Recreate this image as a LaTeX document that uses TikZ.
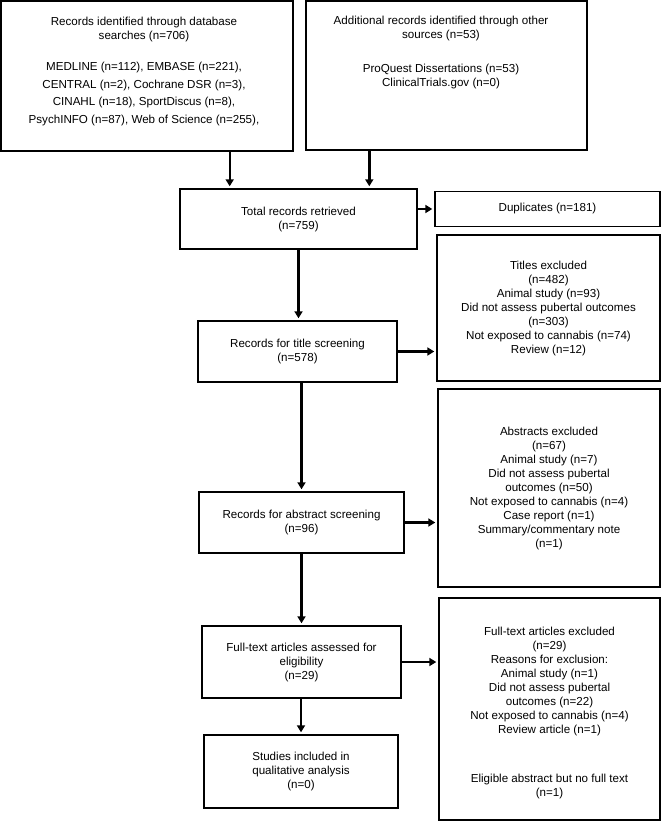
\documentclass[tikz,border=0pt]{standalone}
\usepackage{fontspec}
\setmainfont{Liberation Sans}
\usetikzlibrary{arrows.meta}

\begin{document}
\begin{tikzpicture}[x=1pt, y=-1pt,
  every node/.style={font=\fontsize{11.6}{14}\selectfont, align=center},
  box/.style={draw, line width=1.4pt, inner sep=0pt},
  arr/.style={line width=2.4pt, -{Triangle[length=7pt,width=8pt]}, shorten >=2pt}]
\useasboundingbox (0,0) rectangle (661,821);

\node[box, minimum width=292pt, minimum height=150pt] (dbsearch) at (147,76)
  {\kern-6pt\parbox[c][118pt][t]{260pt}{\centering Records identified through database\\searches (n=706)\\[17pt]MEDLINE (n=112), EMBASE (n=221),\\[3.6pt]CENTRAL (n=2), Cochrane DSR (n=3),\\[3.6pt]CINAHL (n=18), SportDiscus (n=8),\\[3.6pt]PsychINFO (n=87), Web of Science (n=255),}};
\node[box, minimum width=281pt, minimum height=149pt] (othersrc) at (446.5,75.5)
  {\kern-11pt\parbox[c][118pt][t]{250pt}{\centering Additional records identified through other\\sources (n=53)\\[19.6pt]ProQuest Dissertations (n=53)\\ClinicalTrials.gov (n=0)}};

\node[box, minimum width=237pt, minimum height=60pt] (total) at (298.5,219) {Total records retrieved\\(n=759)};
\node[box, minimum width=225pt, minimum height=35pt] (dupl) at (547.5,209) {Duplicates (n=181)};

\node[box, minimum width=199pt, minimum height=61pt] (titlescr) at (297.5,351.5) {Records for title screening\\(n=578)};
\node[box, minimum width=223pt, minimum height=146pt] (titleexcl) at (548.5,308)
  {Titles excluded\\(n=482)\\Animal study (n=93)\\Did not assess pubertal outcomes\\(n=303)\\Not exposed to cannabis (n=74)\\Review (n=12)};

\node[box, minimum width=205pt, minimum height=61pt] (abstrscr) at (301.5,522.5) {Records for abstract screening\\(n=96)};
\node[box, minimum width=222pt, minimum height=198pt] (abstrexcl) at (549,488)
  {Abstracts excluded\\(n=67)\\Animal study (n=7)\\Did not assess pubertal\\outcomes (n=50)\\Not exposed to cannabis (n=4)\\Case report (n=1)\\Summary/commentary note\\(n=1)};

\node[box, minimum width=199pt, minimum height=72pt] (fulltext) at (301.5,662) {Full-text articles assessed for\\eligibility\\(n=29)};
\node[box, minimum width=221pt, minimum height=222pt] (fullexcl) at (549.5,709)
  {\parbox[c][163pt][t]{210pt}{\centering Full-text articles excluded\\(n=29)\\Reasons for exclusion:\\Animal study (n=1)\\Did not assess pubertal\\outcomes (n=22)\\Not exposed to cannabis (n=4)\\Review article (n=1)\\[35pt]Eligible abstract but no full text\\(n=1)}};

\node[box, minimum width=194pt, minimum height=73pt] (included) at (301,771.5) {Studies included in\\qualitative analysis\\(n=0)};

\draw[arr] ([xshift=-64pt]dbsearch.south east) -- ([xshift=-64pt]dbsearch.south east |- total.north);
\draw[arr] ([xshift=64pt]othersrc.south west) -- ([xshift=64pt]othersrc.south west |- total.north);
\draw[arr] (total.east |- dupl.west) -- (dupl.west);
\draw[arr] (total.south) -- (total.south |- titlescr.north);
\draw[arr] (titlescr.east) -- (titlescr.east -| titleexcl.west);
\draw[arr] (abstrscr.north |- titlescr.south) -- (abstrscr.north);
\draw[arr] (abstrscr.east) -- (abstrscr.east -| abstrexcl.west);
\draw[arr] (abstrscr.south) -- (abstrscr.south |- fulltext.north);
\draw[arr] (fulltext.east) -- (fulltext.east -| fullexcl.west);
\draw[arr] (included.north |- fulltext.south) -- (included.north);
\end{tikzpicture}
\end{document}
